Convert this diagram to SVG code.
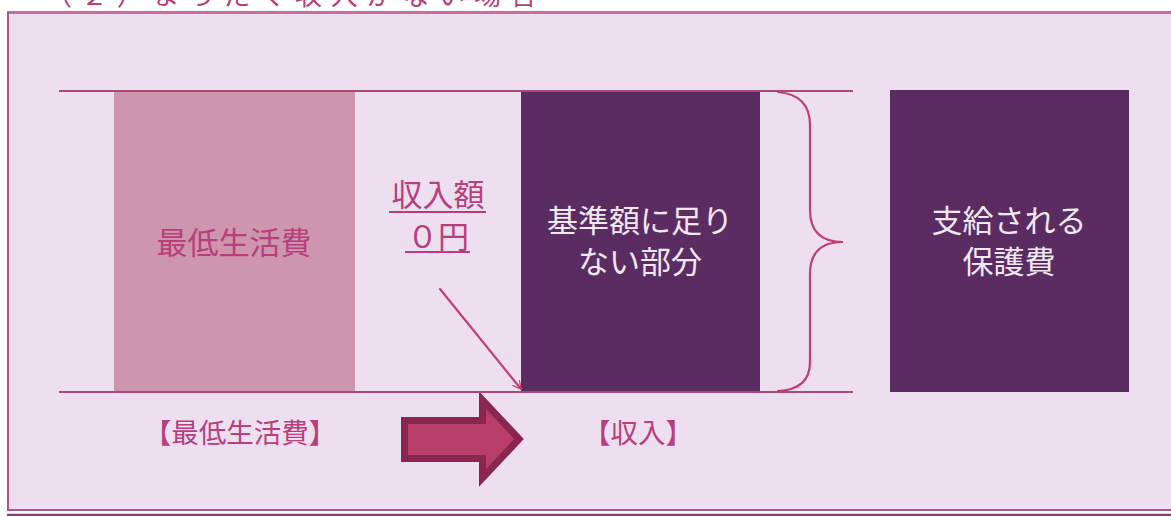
<svg xmlns="http://www.w3.org/2000/svg" width="1171" height="516" viewBox="0 0 1171 516">
<style>
.jp{font-family:"Noto Sans CJK JP","Noto Sans CJK SC",sans-serif;font-weight:400}
.pink{fill:#B8407A}
.wht{fill:#F2E8F2}
.hl{stroke:#A64B7A;stroke-width:2;fill:none}
.conn{stroke:#C0406E;stroke-width:2.2;fill:none;stroke-linecap:round}
</style>
<defs>
<marker id="open" viewBox="0 0 12 12" refX="11" refY="6" markerWidth="9" markerHeight="9" markerUnits="userSpaceOnUse" orient="auto">
<path d="M0,0 L11,6 L0,12" fill="none" stroke="#C0406E" stroke-width="1.6"/>
</marker>
</defs>
<rect width="1171" height="516" fill="#FFFFFF"/>
<text class="jp pink" x="45" y="5" font-size="27" textLength="492" lengthAdjust="spacing">（２）まったく収入がない場合</text>
<rect x="8" y="13" width="1163" height="497" fill="#EEDFF0"/>
<line x1="7" y1="12.5" x2="1171" y2="12.5" stroke="#C96BA0" stroke-width="3"/>
<line x1="8" y1="12" x2="8" y2="511" stroke="#A9578A" stroke-width="2"/>
<line x1="7" y1="510" x2="1171" y2="510" stroke="#A65A8A" stroke-width="2"/>
<line x1="7" y1="515" x2="1171" y2="515" stroke="#8A3A78" stroke-width="2.5"/>

<g id="node-minimum">
<rect x="114" y="92" width="241" height="300" fill="#CE95AF"/>
<text class="jp pink" x="234" y="254" font-size="31" text-anchor="middle">最低生活費</text>
</g>
<g id="node-shortfall">
<rect x="521" y="91" width="239" height="301" fill="#5A2C62"/>
<text class="jp wht" x="640" y="232" font-size="31" text-anchor="middle">基準額に足り</text>
<text class="jp wht" x="640" y="273" font-size="31" text-anchor="middle">ない部分</text>
</g>
<g id="node-benefit">
<rect x="890" y="90" width="239" height="302" fill="#5A2C62"/>
<text class="jp wht" x="1009" y="232" font-size="31" text-anchor="middle">支給される</text>
<text class="jp wht" x="1009" y="273" font-size="31" text-anchor="middle">保護費</text>
</g>
<g id="label-income">
<text class="jp pink" x="438" y="206" font-size="31" text-anchor="middle">収入額</text>
<line x1="389" y1="212" x2="486" y2="212" stroke="#B8407A" stroke-width="2"/>
<text class="jp pink" x="438" y="248" font-size="31" text-anchor="middle">０円</text>
<line x1="405" y1="252" x2="470" y2="252" stroke="#B8407A" stroke-width="2"/>
</g>
<g id="label-min-caption">
<text class="jp pink" x="240" y="443" font-size="27.5" text-anchor="middle">【最低生活費】</text>
</g>
<g id="label-income-caption">
<text class="jp pink" x="638" y="443" font-size="27.5" text-anchor="middle">【収入】</text>
</g>
<g id="block-arrow">
<polygon points="404.5,420.5 482.5,420.5 482.5,400 519,439 482.5,478 482.5,458.5 404.5,458.5" fill="#BA3E6A" stroke="#8A2650" stroke-width="7" stroke-linejoin="miter"/>
</g>
<g id="connectors">
<line class="hl" x1="59" y1="91" x2="853" y2="91"/>
<line class="hl" x1="59" y1="392" x2="853" y2="392"/>
<line class="conn" x1="440" y1="289" x2="521" y2="389" marker-end="url(#open)"/>
<path class="conn" stroke-width="3" d="M778,92 C800,94 810,105 810,125 L810,210 C810,232 822,242 843,242 C822,242 810,252 810,274 L810,362 C810,380 800,390 778,391"/>
</g>
</svg>
